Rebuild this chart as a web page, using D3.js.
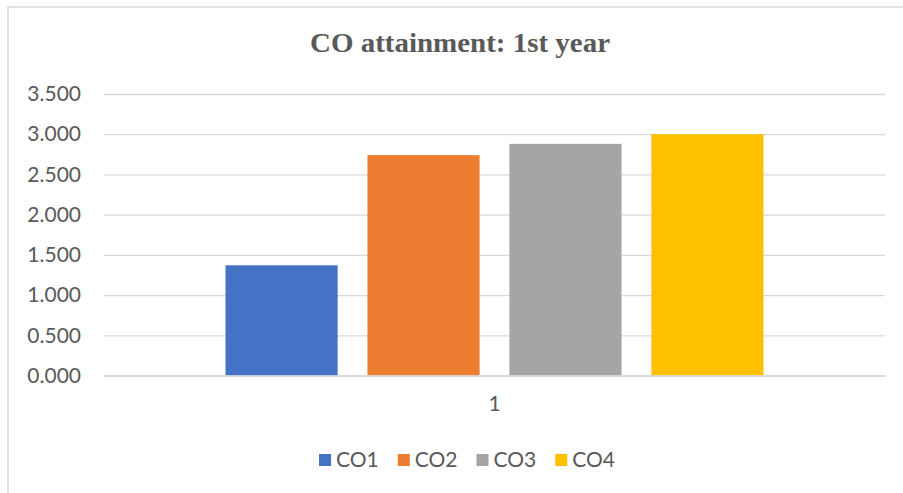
<!DOCTYPE html>
<html>
<head>
<meta charset="utf-8">
<script src="https://cdn.jsdelivr.net/npm/d3@7"></script>
<style>
  body { margin: 0; background: #fff; }
  svg { display: block; }
</style>
</head>
<body>
<div id="chart"></div>
<script>
// chart data
var categories = ["1"];
var seriesNames = ["CO1", "CO2", "CO3", "CO4"];
var seriesValues = [1.37, 2.74, 2.88, 3.00];
var seriesColors = ["#4472C4", "#ED7D31", "#A5A5A5", "#FFC000"];
var yTicks = [0, 0.5, 1, 1.5, 2, 2.5, 3, 3.5];

var svgWidth = 903;
var svgHeight = 493;
var labelFont = "Lato, 'Open Sans', 'Liberation Sans', sans-serif";

// plot area
var margin = { top: 94, right: 18, bottom: 117.5, left: 104 };
var chartWidth = svgWidth - margin.left - margin.right;
var chartHeight = svgHeight - margin.top - margin.bottom;

var svg = d3.select("#chart")
  .append("svg")
  .attr("width", svgWidth)
  .attr("height", svgHeight);

// outer chart border (only top/left are inside the picture)
svg.append("rect")
  .attr("x", 8)
  .attr("y", 7)
  .attr("width", 920)
  .attr("height", 520)
  .attr("fill", "#fff")
  .attr("stroke", "#d9d9d9")
  .attr("stroke-width", 1.5);

// title
svg.append("text")
  .attr("x", 460)
  .attr("y", 52)
  .attr("text-anchor", "middle")
  .attr("font-family", "'Liberation Serif', 'Times New Roman', serif")
  .attr("font-weight", "bold")
  .attr("font-size", "27px")
  .attr("textLength", 300)
  .attr("lengthAdjust", "spacingAndGlyphs")
  .attr("fill", "#595959")
  .text("CO attainment: 1st year");

var chartGroup = svg.append("g")
  .attr("transform", `translate(${margin.left}, ${margin.top})`);

// scales
var yScale = d3.scaleLinear()
  .domain([0, 3.5])
  .range([chartHeight, 0]);

var x0 = d3.scaleBand()
  .domain(categories)
  .range([0, chartWidth])
  .paddingOuter(0.2258);

var x1 = d3.scaleBand()
  .domain(seriesNames)
  .range([0, x0.bandwidth()])
  .paddingInner(0.21);

// gridlines + y labels
var leftAxis = d3.axisLeft(yScale)
  .tickValues(yTicks)
  .tickSize(-chartWidth)
  .tickPadding(23)
  .tickFormat(d3.format(".3f"));

var yAxis = chartGroup.append("g").call(leftAxis);
yAxis.select(".domain").remove();
yAxis.selectAll("line")
  .attr("stroke", "#d9d9d9")
  .attr("stroke-width", 1.3);
yAxis.selectAll("text")
  .attr("fill", "#595959")
  .attr("font-family", labelFont)
  .attr("font-size", "21px");

// bars
var group = chartGroup.append("g")
  .attr("transform", `translate(${x0(categories[0])}, 0)`);

group.selectAll("rect")
  .data(seriesValues)
  .enter()
  .append("rect")
  .attr("x", (d, i) => x1(seriesNames[i]))
  .attr("y", d => yScale(d))
  .attr("width", x1.bandwidth())
  .attr("height", d => chartHeight - yScale(d))
  .attr("fill", (d, i) => seriesColors[i]);

// x category label
var bottomAxis = d3.axisBottom(x0).tickSize(0).tickPadding(21);
var xAxis = chartGroup.append("g")
  .attr("transform", `translate(0, ${chartHeight})`)
  .call(bottomAxis);
xAxis.select(".domain")
  .attr("stroke", "#d9d9d9")
  .attr("stroke-width", 1.3);
xAxis.selectAll("text")
  .attr("fill", "#595959")
  .attr("font-family", labelFont)
  .attr("font-size", "21px");

// legend, laid out from measured text widths and centred
var legend = svg.append("g");
var cursor = 0;
seriesNames.forEach(function(name, i) {
  legend.append("rect")
    .attr("x", cursor)
    .attr("y", 454)
    .attr("width", 12)
    .attr("height", 12)
    .attr("fill", seriesColors[i]);
  var t = legend.append("text")
    .attr("x", cursor + 17)
    .attr("y", 467)
    .attr("fill", "#595959")
    .attr("font-family", labelFont)
    .attr("font-size", "21px")
    .text(name);
  cursor += 17 + t.node().getComputedTextLength() + 19;
});
var legendWidth = cursor - 19;
legend.attr("transform", `translate(${467 - legendWidth / 2}, 0)`);
</script>
</body>
</html>
